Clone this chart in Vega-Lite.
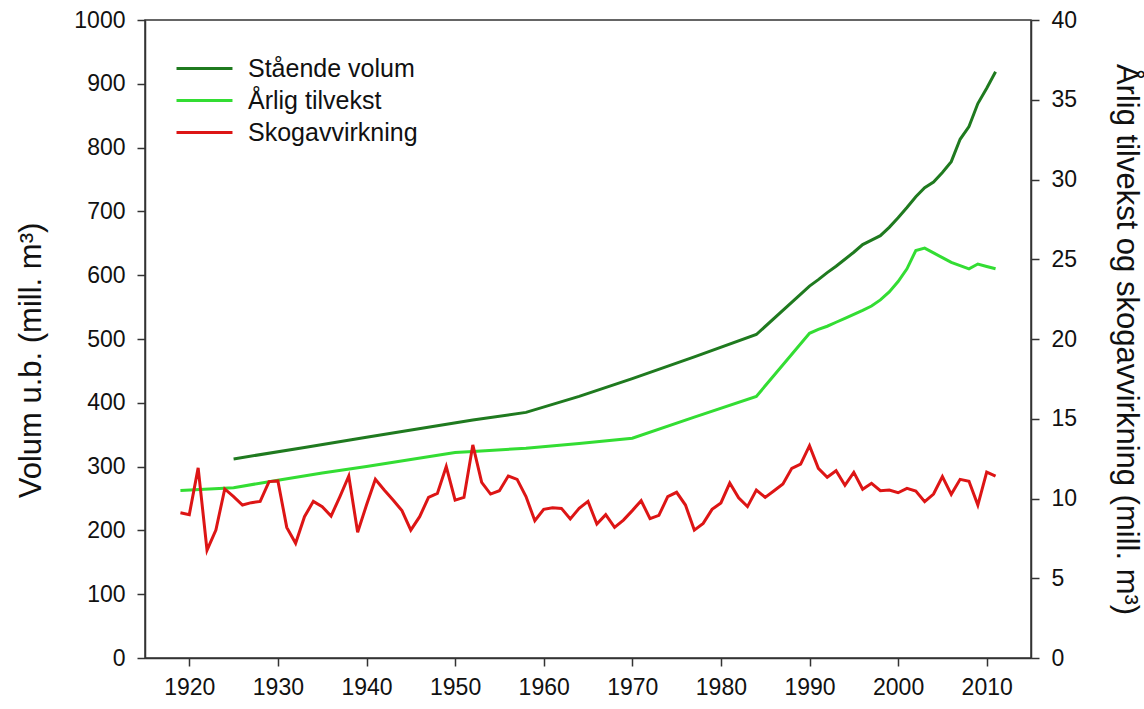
{
  "$schema": "https://vega.github.io/schema/vega-lite/v6.json",
  "autosize": {"type": "none"},
  "padding": {"left": 145, "top": 20, "right": 113, "bottom": 51},
  "width": 886,
  "height": 638,
  "background": "white",
  "config": {
    "font": "Liberation Sans",
    "view": {"stroke": "#333", "strokeWidth": 1.5},
    "axis": {
      "grid": false,
      "domainColor": "#333",
      "domainWidth": 1.5,
      "tickColor": "#333",
      "tickWidth": 1.5,
      "tickSize": 8,
      "labelFont": "Liberation Sans",
      "labelFontSize": 23,
      "labelColor": "#111",
      "titleFont": "Liberation Sans",
      "titleFontSize": 31,
      "titleFontWeight": "normal",
      "titleColor": "#111"
    }
  },
  "datasets": {
    "volum": [
      {"year": 1925, "v": 312, "serie": "Stående volum"},
      {"year": 1933, "v": 330, "serie": "Stående volum"},
      {"year": 1940, "v": 346, "serie": "Stående volum"},
      {"year": 1952, "v": 373, "serie": "Stående volum"},
      {"year": 1958, "v": 385, "serie": "Stående volum"},
      {"year": 1964, "v": 410, "serie": "Stående volum"},
      {"year": 1970, "v": 438, "serie": "Stående volum"},
      {"year": 1977, "v": 472, "serie": "Stående volum"},
      {"year": 1984, "v": 507, "serie": "Stående volum"},
      {"year": 1990, "v": 583, "serie": "Stående volum"},
      {"year": 1991, "v": 593, "serie": "Stående volum"},
      {"year": 1992, "v": 604, "serie": "Stående volum"},
      {"year": 1993, "v": 614, "serie": "Stående volum"},
      {"year": 1994, "v": 625, "serie": "Stående volum"},
      {"year": 1995, "v": 636, "serie": "Stående volum"},
      {"year": 1996, "v": 648, "serie": "Stående volum"},
      {"year": 1997, "v": 655, "serie": "Stående volum"},
      {"year": 1998, "v": 662, "serie": "Stående volum"},
      {"year": 1999, "v": 675, "serie": "Stående volum"},
      {"year": 2000, "v": 690, "serie": "Stående volum"},
      {"year": 2001, "v": 706, "serie": "Stående volum"},
      {"year": 2002, "v": 723, "serie": "Stående volum"},
      {"year": 2003, "v": 737, "serie": "Stående volum"},
      {"year": 2004, "v": 746, "serie": "Stående volum"},
      {"year": 2005, "v": 761, "serie": "Stående volum"},
      {"year": 2006, "v": 778, "serie": "Stående volum"},
      {"year": 2007, "v": 813, "serie": "Stående volum"},
      {"year": 2008, "v": 833, "serie": "Stående volum"},
      {"year": 2009, "v": 869, "serie": "Stående volum"},
      {"year": 2010, "v": 893, "serie": "Stående volum"},
      {"year": 2011, "v": 919, "serie": "Stående volum"}
    ],
    "annual": [
      {"year": 1919, "v": 10.5, "serie": "Årlig tilvekst"},
      {"year": 1925, "v": 10.68, "serie": "Årlig tilvekst"},
      {"year": 1930, "v": 11.15, "serie": "Årlig tilvekst"},
      {"year": 1935, "v": 11.6, "serie": "Årlig tilvekst"},
      {"year": 1940, "v": 12.0, "serie": "Årlig tilvekst"},
      {"year": 1945, "v": 12.45, "serie": "Årlig tilvekst"},
      {"year": 1950, "v": 12.88, "serie": "Årlig tilvekst"},
      {"year": 1952, "v": 12.95, "serie": "Årlig tilvekst"},
      {"year": 1958, "v": 13.15, "serie": "Årlig tilvekst"},
      {"year": 1964, "v": 13.45, "serie": "Årlig tilvekst"},
      {"year": 1970, "v": 13.78, "serie": "Årlig tilvekst"},
      {"year": 1977, "v": 15.1, "serie": "Årlig tilvekst"},
      {"year": 1984, "v": 16.4, "serie": "Årlig tilvekst"},
      {"year": 1990, "v": 20.36, "serie": "Årlig tilvekst"},
      {"year": 1991, "v": 20.6, "serie": "Årlig tilvekst"},
      {"year": 1992, "v": 20.8, "serie": "Årlig tilvekst"},
      {"year": 1993, "v": 21.05, "serie": "Årlig tilvekst"},
      {"year": 1994, "v": 21.3, "serie": "Årlig tilvekst"},
      {"year": 1995, "v": 21.55, "serie": "Årlig tilvekst"},
      {"year": 1996, "v": 21.8, "serie": "Årlig tilvekst"},
      {"year": 1997, "v": 22.07, "serie": "Årlig tilvekst"},
      {"year": 1998, "v": 22.45, "serie": "Årlig tilvekst"},
      {"year": 1999, "v": 22.95, "serie": "Årlig tilvekst"},
      {"year": 2000, "v": 23.6, "serie": "Årlig tilvekst"},
      {"year": 2001, "v": 24.4, "serie": "Årlig tilvekst"},
      {"year": 2002, "v": 25.55, "serie": "Årlig tilvekst"},
      {"year": 2003, "v": 25.7, "serie": "Årlig tilvekst"},
      {"year": 2004, "v": 25.4, "serie": "Årlig tilvekst"},
      {"year": 2005, "v": 25.1, "serie": "Årlig tilvekst"},
      {"year": 2006, "v": 24.8, "serie": "Årlig tilvekst"},
      {"year": 2007, "v": 24.6, "serie": "Årlig tilvekst"},
      {"year": 2008, "v": 24.4, "serie": "Årlig tilvekst"},
      {"year": 2009, "v": 24.7, "serie": "Årlig tilvekst"},
      {"year": 2010, "v": 24.55, "serie": "Årlig tilvekst"},
      {"year": 2011, "v": 24.4, "serie": "Årlig tilvekst"},
      {"year": 1919, "v": 9.11, "serie": "Skogavvirkning"},
      {"year": 1920, "v": 8.99, "serie": "Skogavvirkning"},
      {"year": 1921, "v": 11.92, "serie": "Skogavvirkning"},
      {"year": 1922, "v": 6.76, "serie": "Skogavvirkning"},
      {"year": 1923, "v": 8.02, "serie": "Skogavvirkning"},
      {"year": 1924, "v": 10.6, "serie": "Skogavvirkning"},
      {"year": 1925, "v": 10.12, "serie": "Skogavvirkning"},
      {"year": 1926, "v": 9.59, "serie": "Skogavvirkning"},
      {"year": 1927, "v": 9.74, "serie": "Skogavvirkning"},
      {"year": 1928, "v": 9.82, "serie": "Skogavvirkning"},
      {"year": 1929, "v": 11.06, "serie": "Skogavvirkning"},
      {"year": 1930, "v": 11.1, "serie": "Skogavvirkning"},
      {"year": 1931, "v": 8.19, "serie": "Skogavvirkning"},
      {"year": 1932, "v": 7.19, "serie": "Skogavvirkning"},
      {"year": 1933, "v": 8.86, "serie": "Skogavvirkning"},
      {"year": 1934, "v": 9.82, "serie": "Skogavvirkning"},
      {"year": 1935, "v": 9.49, "serie": "Skogavvirkning"},
      {"year": 1936, "v": 8.9, "serie": "Skogavvirkning"},
      {"year": 1937, "v": 10.12, "serie": "Skogavvirkning"},
      {"year": 1938, "v": 11.41, "serie": "Skogavvirkning"},
      {"year": 1939, "v": 7.88, "serie": "Skogavvirkning"},
      {"year": 1940, "v": 9.59, "serie": "Skogavvirkning"},
      {"year": 1941, "v": 11.2, "serie": "Skogavvirkning"},
      {"year": 1942, "v": 10.53, "serie": "Skogavvirkning"},
      {"year": 1943, "v": 9.9, "serie": "Skogavvirkning"},
      {"year": 1944, "v": 9.24, "serie": "Skogavvirkning"},
      {"year": 1945, "v": 8.02, "serie": "Skogavvirkning"},
      {"year": 1946, "v": 8.86, "serie": "Skogavvirkning"},
      {"year": 1947, "v": 10.07, "serie": "Skogavvirkning"},
      {"year": 1948, "v": 10.32, "serie": "Skogavvirkning"},
      {"year": 1949, "v": 12.0, "serie": "Skogavvirkning"},
      {"year": 1950, "v": 9.9, "serie": "Skogavvirkning"},
      {"year": 1951, "v": 10.07, "serie": "Skogavvirkning"},
      {"year": 1952, "v": 13.36, "serie": "Skogavvirkning"},
      {"year": 1953, "v": 11.01, "serie": "Skogavvirkning"},
      {"year": 1954, "v": 10.28, "serie": "Skogavvirkning"},
      {"year": 1955, "v": 10.49, "serie": "Skogavvirkning"},
      {"year": 1956, "v": 11.41, "serie": "Skogavvirkning"},
      {"year": 1957, "v": 11.2, "serie": "Skogavvirkning"},
      {"year": 1958, "v": 10.12, "serie": "Skogavvirkning"},
      {"year": 1959, "v": 8.61, "serie": "Skogavvirkning"},
      {"year": 1960, "v": 9.32, "serie": "Skogavvirkning"},
      {"year": 1961, "v": 9.42, "serie": "Skogavvirkning"},
      {"year": 1962, "v": 9.38, "serie": "Skogavvirkning"},
      {"year": 1963, "v": 8.72, "serie": "Skogavvirkning"},
      {"year": 1964, "v": 9.38, "serie": "Skogavvirkning"},
      {"year": 1965, "v": 9.82, "serie": "Skogavvirkning"},
      {"year": 1966, "v": 8.4, "serie": "Skogavvirkning"},
      {"year": 1967, "v": 8.99, "serie": "Skogavvirkning"},
      {"year": 1968, "v": 8.19, "serie": "Skogavvirkning"},
      {"year": 1969, "v": 8.65, "serie": "Skogavvirkning"},
      {"year": 1970, "v": 9.24, "serie": "Skogavvirkning"},
      {"year": 1971, "v": 9.86, "serie": "Skogavvirkning"},
      {"year": 1972, "v": 8.74, "serie": "Skogavvirkning"},
      {"year": 1973, "v": 8.94, "serie": "Skogavvirkning"},
      {"year": 1974, "v": 10.12, "serie": "Skogavvirkning"},
      {"year": 1975, "v": 10.39, "serie": "Skogavvirkning"},
      {"year": 1976, "v": 9.59, "serie": "Skogavvirkning"},
      {"year": 1977, "v": 8.02, "serie": "Skogavvirkning"},
      {"year": 1978, "v": 8.44, "serie": "Skogavvirkning"},
      {"year": 1979, "v": 9.32, "serie": "Skogavvirkning"},
      {"year": 1980, "v": 9.72, "serie": "Skogavvirkning"},
      {"year": 1981, "v": 10.97, "serie": "Skogavvirkning"},
      {"year": 1982, "v": 10.04, "serie": "Skogavvirkning"},
      {"year": 1983, "v": 9.49, "serie": "Skogavvirkning"},
      {"year": 1984, "v": 10.53, "serie": "Skogavvirkning"},
      {"year": 1985, "v": 10.07, "serie": "Skogavvirkning"},
      {"year": 1986, "v": 10.49, "serie": "Skogavvirkning"},
      {"year": 1987, "v": 10.91, "serie": "Skogavvirkning"},
      {"year": 1988, "v": 11.89, "serie": "Skogavvirkning"},
      {"year": 1989, "v": 12.16, "serie": "Skogavvirkning"},
      {"year": 1990, "v": 13.31, "serie": "Skogavvirkning"},
      {"year": 1991, "v": 11.89, "serie": "Skogavvirkning"},
      {"year": 1992, "v": 11.33, "serie": "Skogavvirkning"},
      {"year": 1993, "v": 11.74, "serie": "Skogavvirkning"},
      {"year": 1994, "v": 10.83, "serie": "Skogavvirkning"},
      {"year": 1995, "v": 11.64, "serie": "Skogavvirkning"},
      {"year": 1996, "v": 10.58, "serie": "Skogavvirkning"},
      {"year": 1997, "v": 10.95, "serie": "Skogavvirkning"},
      {"year": 1998, "v": 10.49, "serie": "Skogavvirkning"},
      {"year": 1999, "v": 10.53, "serie": "Skogavvirkning"},
      {"year": 2000, "v": 10.36, "serie": "Skogavvirkning"},
      {"year": 2001, "v": 10.64, "serie": "Skogavvirkning"},
      {"year": 2002, "v": 10.47, "serie": "Skogavvirkning"},
      {"year": 2003, "v": 9.8, "serie": "Skogavvirkning"},
      {"year": 2004, "v": 10.28, "serie": "Skogavvirkning"},
      {"year": 2005, "v": 11.37, "serie": "Skogavvirkning"},
      {"year": 2006, "v": 10.26, "serie": "Skogavvirkning"},
      {"year": 2007, "v": 11.2, "serie": "Skogavvirkning"},
      {"year": 2008, "v": 11.08, "serie": "Skogavvirkning"},
      {"year": 2009, "v": 9.59, "serie": "Skogavvirkning"},
      {"year": 2010, "v": 11.66, "serie": "Skogavvirkning"},
      {"year": 2011, "v": 11.41, "serie": "Skogavvirkning"}
    ]
  },
  "encoding": {
    "x": {
      "field": "year",
      "type": "quantitative",
      "scale": {"domain": [1915, 2015], "nice": false, "zero": false},
      "axis": {
        "title": null,
        "values": [1920, 1930, 1940, 1950, 1960, 1970, 1980, 1990, 2000, 2010],
        "format": "d",
        "labelPadding": 10
      }
    },
    "color": {
      "field": "serie",
      "type": "nominal",
      "scale": {
        "domain": ["Stående volum", "Årlig tilvekst", "Skogavvirkning"],
        "range": ["#1f7a1f", "#33dd33", "#dd1515"]
      },
      "legend": {
        "title": null,
        "orient": "none",
        "legendX": 47,
        "legendY": 36,
        "padding": 0,
        "symbolType": "M-3,0H3",
        "symbolSize": 348,
        "symbolStrokeWidth": 3,
        "labelFont": "Liberation Sans",
        "labelFontSize": 25,
        "labelColor": "#111",
        "labelOffset": 31,
        "labelLimit": 400,
        "rowPadding": 6
      }
    }
  },
  "layer": [
    {
      "data": {"name": "volum"},
      "mark": {"type": "line", "strokeWidth": 3},
      "encoding": {
        "y": {
          "field": "v",
          "type": "quantitative",
          "scale": {"domain": [0, 1000], "nice": false},
          "axis": {
            "orient": "left",
            "title": "Volum u.b. (mill. m³)",
            "values": [0, 100, 200, 300, 400, 500, 600, 700, 800, 900, 1000],
            "format": "d",
            "labelPadding": 12,
            "titlePadding": 26,
            "titleY": 340
          }
        }
      }
    },
    {
      "data": {"name": "annual"},
      "mark": {"type": "line", "strokeWidth": 3},
      "encoding": {
        "y": {
          "field": "v",
          "type": "quantitative",
          "scale": {"domain": [0, 40], "nice": false},
          "axis": {
            "orient": "right",
            "title": "Årlig tilvekst og skogavvirkning (mill. m³)",
            "values": [0, 5, 10, 15, 20, 25, 30, 35, 40],
            "labelPadding": 12,
            "titlePadding": 33
          }
        }
      }
    }
  ],
  "resolve": {"scale": {"y": "independent"}}
}
